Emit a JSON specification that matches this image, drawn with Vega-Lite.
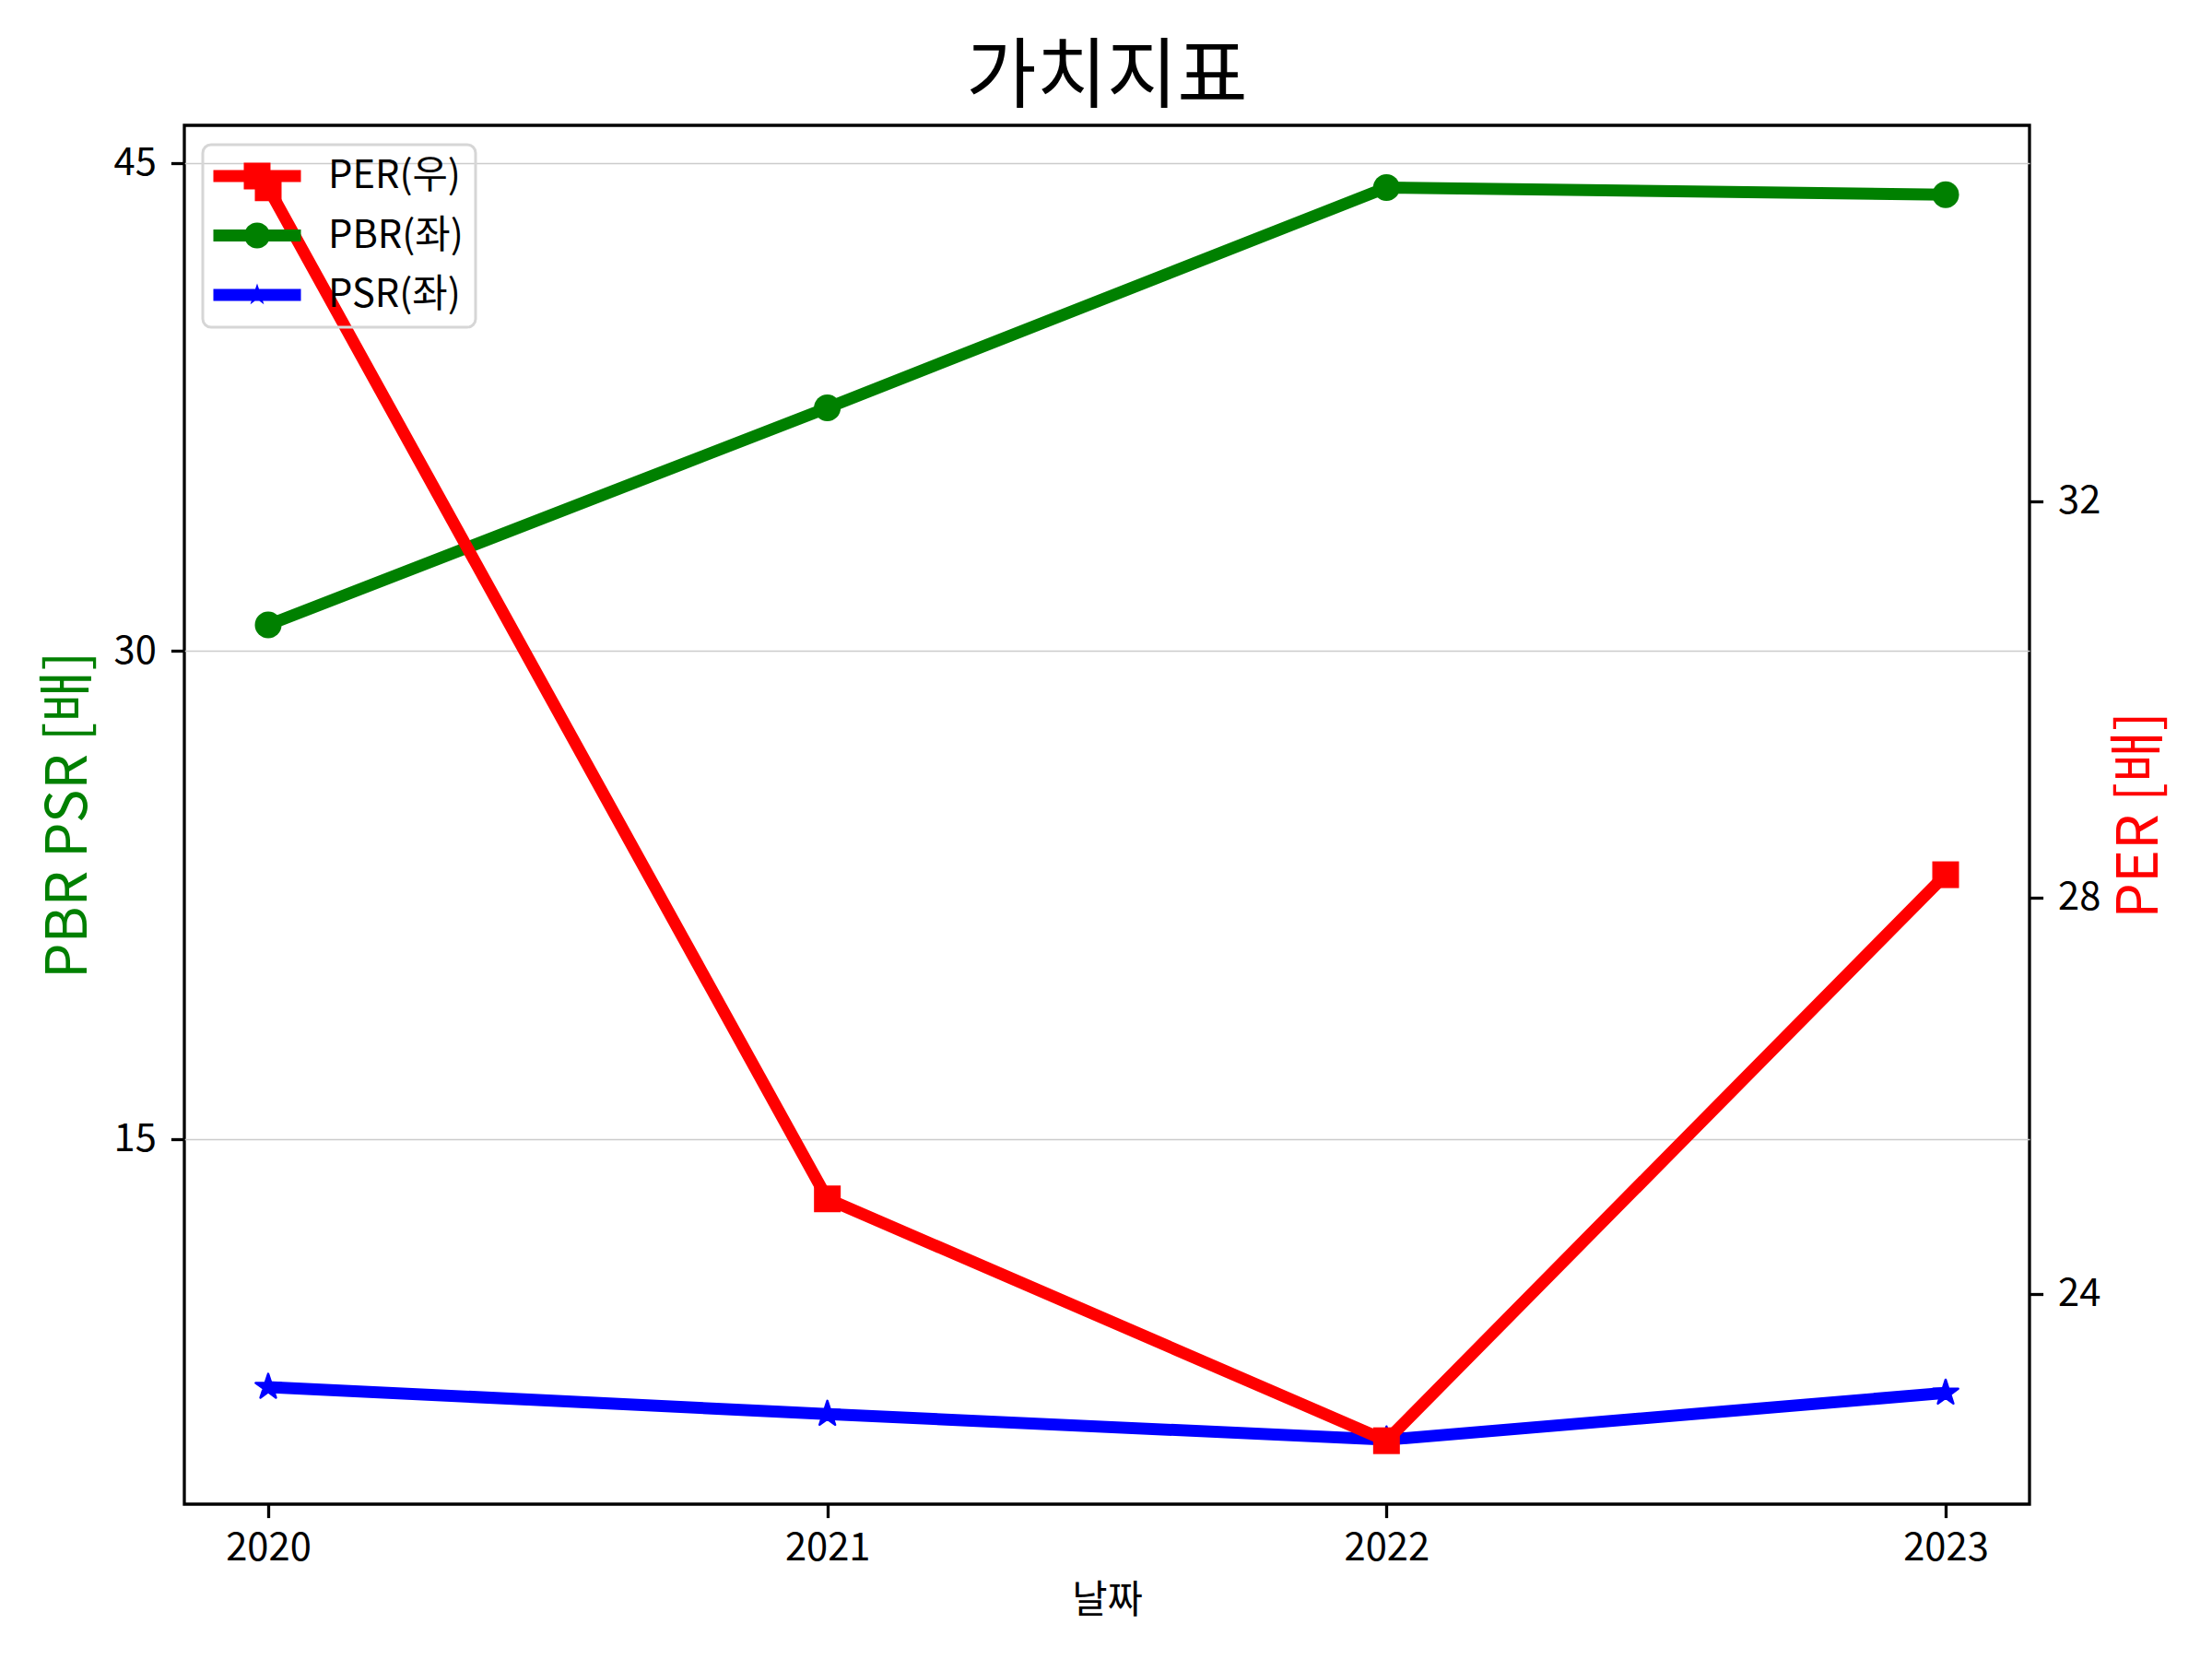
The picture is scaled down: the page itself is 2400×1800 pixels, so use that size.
{
  "$schema": "https://vega.github.io/schema/vega-lite/v6.json",
  "width": 2002,
  "height": 1496,
  "autosize": "none",
  "padding": {"left": 200, "top": 136, "right": 198, "bottom": 168},
  "background": "white",
  "config": {
    "font": "Noto Sans CJK KR",
    "view": {"stroke": "black", "strokeWidth": 3.3},
    "axis": {
      "domain": false,
      "grid": false,
      "tickColor": "black",
      "tickWidth": 3.3,
      "tickSize": 14.6,
      "labelFontSize": 41.7,
      "labelColor": "black",
      "labelFont": "Noto Sans CJK KR",
      "titleFont": "Noto Sans CJK KR",
      "titleFontWeight": "normal",
      "titleColor": "black"
    },
    "legend": {"strokeWidth": 3}
  },
  "title": {
    "text": "가치지표",
    "fontSize": 83,
    "fontWeight": "normal",
    "color": "black",
    "font": "Noto Sans CJK KR",
    "anchor": "middle",
    "offset": 9
  },
  "data": {
    "values": [
      {"year": 2020, "series": "PER(우)", "value": 35.16},
      {"year": 2021, "series": "PER(우)", "value": 24.96},
      {"year": 2022, "series": "PER(우)", "value": 22.52},
      {"year": 2023, "series": "PER(우)", "value": 28.23},
      {"year": 2020, "series": "PBR(좌)", "value": 30.8},
      {"year": 2021, "series": "PBR(좌)", "value": 37.47},
      {"year": 2022, "series": "PBR(좌)", "value": 44.24},
      {"year": 2023, "series": "PBR(좌)", "value": 44.02},
      {"year": 2020, "series": "PSR(좌)", "value": 7.38},
      {"year": 2021, "series": "PSR(좌)", "value": 6.55},
      {"year": 2022, "series": "PSR(좌)", "value": 5.76},
      {"year": 2023, "series": "PSR(좌)", "value": 7.2}
    ]
  },
  "encoding": {
    "x": {
      "field": "year",
      "type": "quantitative",
      "scale": {"domain": [2019.85, 2023.15], "nice": false, "zero": false},
      "axis": {
        "values": [2020, 2021, 2022, 2023],
        "format": "d",
        "labelPadding": 13,
        "title": "날짜",
        "titleFontSize": 41.7,
        "titlePadding": 15
      }
    }
  },
  "layer": [
    {
      "encoding": {
        "y": {
          "field": "value",
          "type": "quantitative",
          "scale": {"domain": [3.78, 46.15], "nice": false, "zero": false},
          "axis": {
            "orient": "left",
            "values": [15, 30, 45],
            "grid": true,
            "gridColor": "#cccccc",
            "gridWidth": 1.3,
            "labelPadding": 16,
            "title": "PBR PSR [배]",
            "titleColor": "#008000",
            "titleFontSize": 61,
            "titlePadding": 17
          }
        }
      },
      "layer": [
        {
          "transform": [{"filter": "datum.series === 'PBR(좌)'"}],
          "mark": {"type": "line", "color": "#008000", "strokeWidth": 13, "strokeJoin": "round"},
          "encoding": {}
        },
        {
          "transform": [{"filter": "datum.series === 'PBR(좌)'"}],
          "mark": {"type": "point", "shape": "circle", "filled": true, "color": "#008000", "size": 841, "opacity": 1},
          "encoding": {}
        },
        {
          "transform": [{"filter": "datum.series === 'PSR(좌)'"}],
          "mark": {"type": "line", "color": "#0000ff", "strokeWidth": 13, "strokeJoin": "round"},
          "encoding": {}
        },
        {
          "transform": [{"filter": "datum.series === 'PSR(좌)'"}],
          "mark": {
            "type": "point",
            "shape": "M0,-1L0.2245,-0.309L0.9511,-0.309L0.3633,0.118L0.5878,0.809L0,0.382L-0.5878,0.809L-0.3633,0.118L-0.9511,-0.309L-0.2245,-0.309Z",
            "filled": true,
            "color": "#0000ff",
            "stroke": "#0000ff",
            "strokeWidth": 2.5,
            "strokeJoin": "round",
            "size": 820,
            "opacity": 1
          },
          "encoding": {}
        },
        {
          "transform": [{"filter": "datum.value < 0"}],
          "mark": {"type": "point", "filled": true, "opacity": 1},
          "encoding": {
            "color": {
              "field": "series",
              "type": "nominal",
              "scale": {"domain": ["PER(우)", "PBR(좌)", "PSR(좌)"], "range": ["#ff0000", "#008000", "#0000ff"]},
              "legend": {
                "title": null,
                "orient": "none",
                "legendX": 20,
                "legendY": 21,
                "padding": 13,
                "fillColor": "rgba(255,255,255,0)",
                "strokeColor": "#d6d6d6",
                "cornerRadius": 9,
                "symbolSize": 1764,
                "symbolOffset": 25,
                "symbolStrokeWidth": 0,
                "symbolOpacity": 1,
                "labelFontSize": 41.7,
                "labelFont": "Noto Sans CJK KR",
                "labelColor": "black",
                "labelOffset": 56,
                "rowPadding": 21.5
              }
            },
            "shape": {
              "field": "series",
              "type": "nominal",
              "scale": {
                "domain": ["PER(우)", "PBR(좌)", "PSR(좌)"],
                "range": [
                  "M-2.262,-0.31H2.262V0.31H-2.262Z M-0.69,-0.69H0.69V0.69H-0.69Z",
                  "M-2.262,-0.31H2.262V0.31H-2.262Z M0.667,0A0.667,0.667 0 1,1 -0.667,0A0.667,0.667 0 1,1 0.667,0Z",
                  "M-2.262,-0.31H2.262V0.31H-2.262Z M0,-0.6L0.1347,-0.1854L0.5706,-0.1854L0.218,0.0708L0.3527,0.4854L0,0.2292L-0.3527,0.4854L-0.218,0.0708L-0.5706,-0.1854L-0.1347,-0.1854Z"
                ]
              },
              "legend": {
                "title": null,
                "orient": "none",
                "legendX": 20,
                "legendY": 21
              }
            }
          }
        }
      ]
    },
    {
      "encoding": {
        "y": {
          "field": "value",
          "type": "quantitative",
          "scale": {"domain": [21.88, 35.79], "nice": false, "zero": false},
          "axis": {
            "orient": "right",
            "values": [24, 28, 32],
            "labelPadding": 16,
            "title": "PER [배]",
            "titleColor": "#ff0000",
            "titleFontSize": 61,
            "titleAngle": 270,
            "titleBaseline": "top",
            "titlePadding": 14
          }
        }
      },
      "layer": [
        {
          "transform": [{"filter": "datum.series === 'PER(우)'"}],
          "mark": {"type": "line", "color": "#ff0000", "strokeWidth": 13, "strokeJoin": "round"},
          "encoding": {}
        },
        {
          "transform": [{"filter": "datum.series === 'PER(우)'"}],
          "mark": {"type": "point", "shape": "square", "filled": true, "color": "#ff0000", "size": 841, "opacity": 1},
          "encoding": {}
        }
      ]
    }
  ],
  "resolve": {"scale": {"y": "independent"}}
}
